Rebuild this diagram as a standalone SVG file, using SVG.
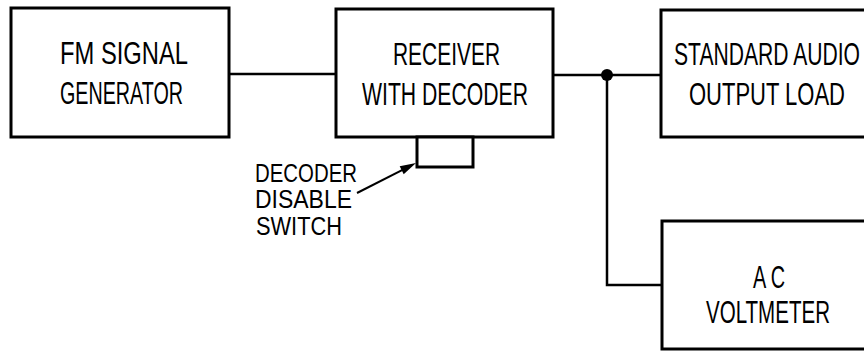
<svg xmlns="http://www.w3.org/2000/svg" width="864" height="352" viewBox="0 0 864 352">
<style>
.box{fill:#fff;stroke:#000;stroke-width:3}
.ln{fill:none;stroke:#000;stroke-width:2.5}
.t{font-family:"Liberation Sans",Arial,sans-serif;font-size:32px;fill:#000}
.s{font-family:"Liberation Sans",Arial,sans-serif;font-size:25px;fill:#000}
</style>
<rect width="864" height="352" fill="#fff"/>
<g id="connectors">
<line class="ln" x1="229" y1="74" x2="336" y2="74"/>
<line class="ln" x1="553" y1="75" x2="661" y2="75"/>
<polyline class="ln" points="607,75 607,285 662,285"/>
<circle cx="607" cy="75" r="6" fill="#000"/>
<line x1="357" y1="193" x2="405" y2="168.6" stroke="#000" stroke-width="2"/>
<polygon points="416,163 403.7,174.3 399.7,166.2" fill="#000"/>
</g>
<g id="fm-generator">
<rect class="box" x="11" y="8" width="218" height="129"/>
<text class="t" x="60" y="64" textLength="128" lengthAdjust="spacingAndGlyphs">FM  SIGNAL</text>
<text class="t" x="60" y="104" textLength="123" lengthAdjust="spacingAndGlyphs">GENERATOR</text>
</g>
<g id="receiver">
<rect class="box" x="336" y="9" width="217" height="128"/>
<text class="t" x="393" y="65" textLength="107" lengthAdjust="spacingAndGlyphs">RECEIVER</text>
<text class="t" x="362" y="105" textLength="166" lengthAdjust="spacingAndGlyphs">WITH  DECODER</text>
</g>
<g id="decoder-switch">
<rect class="box" x="417" y="137" width="56" height="30"/>
<text class="s" x="255" y="182" textLength="102" lengthAdjust="spacingAndGlyphs">DECODER</text>
<text class="s" x="255" y="208" textLength="97" lengthAdjust="spacingAndGlyphs">DISABLE</text>
<text class="s" x="256" y="235" textLength="86" lengthAdjust="spacingAndGlyphs">SWITCH</text>
</g>
<g id="audio-load">
<rect class="box" x="661" y="10" width="220" height="127"/>
<text class="t" x="674" y="65" textLength="186" lengthAdjust="spacingAndGlyphs">STANDARD  AUDIO</text>
<text class="t" x="689" y="105" textLength="156" lengthAdjust="spacingAndGlyphs">OUTPUT  LOAD</text>
</g>
<g id="ac-voltmeter">
<rect class="box" x="662" y="221" width="220" height="128"/>
<text class="t" x="753" y="288" textLength="32" lengthAdjust="spacingAndGlyphs">A C</text>
<text class="t" x="706" y="323" textLength="124" lengthAdjust="spacingAndGlyphs">VOLTMETER</text>
</g>
</svg>
